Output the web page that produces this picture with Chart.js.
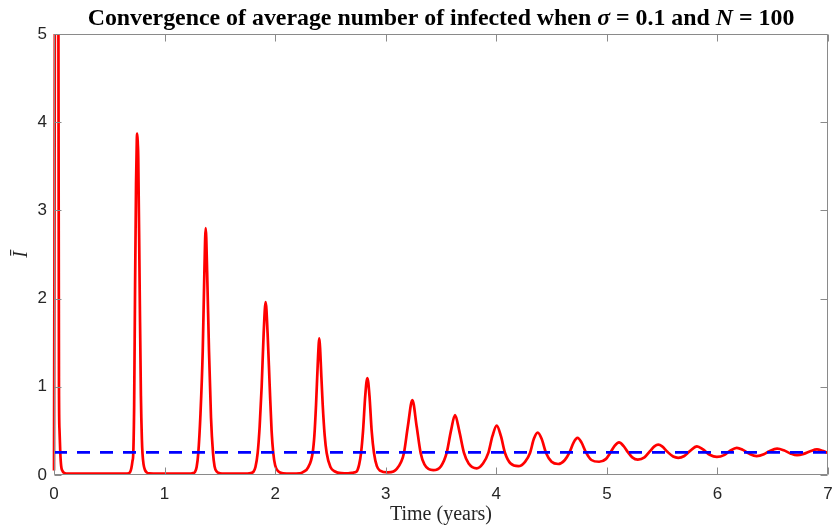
<!DOCTYPE html>
<html>
<head>
<meta charset="utf-8">
<script src="https://cdn.jsdelivr.net/npm/chart.js@4.4.0/dist/chart.umd.min.js"></script>
<style>
  html, body { margin: 0; padding: 0; background: #ffffff; }
</style>
</head>
<body>
<canvas id="infectes" width="833" height="527"></canvas>
<script>
// Temps (années) et nombre moyen d'infectés
const timeYears = [
  0, 0.004, 0.01, 0.03, 0.04, 0.045, 0.05, 0.057, 0.065, 0.075, 0.09, 0.11, 0.2, 0.4, 0.6, 0.66,
  0.687, 0.70, 0.71, 0.717, 0.725, 0.733, 0.742, 0.749, 0.753, 0.758, 0.762, 0.775, 0.786, 0.795, 0.80, 0.81, 0.822, 0.838, 0.86, 0.95, 1.1, 1.22,
  1.25, 1.275, 1.29, 1.305, 1.325, 1.345, 1.36, 1.372, 1.385, 1.402, 1.42, 1.438, 1.452, 1.471, 1.5, 1.6, 1.75,
  1.78, 1.803, 1.822, 1.842, 1.86, 1.878, 1.896, 1.914, 1.932, 1.951, 1.968, 1.983, 2.0, 2.029, 2.07, 2.15, 2.22,
  2.255, 2.3, 2.339, 2.355, 2.37, 2.385, 2.395, 2.40, 2.408, 2.415, 2.43, 2.448, 2.466, 2.5, 2.541, 2.6, 2.66, 2.7,
  2.737, 2.76, 2.777, 2.795, 2.815, 2.834, 2.853, 2.873, 2.894, 2.92, 2.948, 3.02,
  3.07, 3.1, 3.14, 3.165, 3.2, 3.241, 3.28, 3.316, 3.35, 3.43,
  3.50, 3.551, 3.59, 3.627, 3.665, 3.708, 3.75, 3.823,
  3.88, 3.928, 3.965, 4.004, 4.042, 4.079, 4.13, 4.20,
  4.26, 4.305, 4.34, 4.375, 4.41, 4.45, 4.50, 4.56,
  4.62, 4.66, 4.70, 4.735, 4.77, 4.81, 4.86, 4.93,
  4.99, 5.03, 5.07, 5.11, 5.15, 5.19, 5.23, 5.28,
  5.34, 5.39, 5.43, 5.465, 5.50, 5.55, 5.60, 5.645,
  5.70, 5.75, 5.815, 5.87, 5.93, 5.995,
  6.06, 6.11, 6.175, 6.23, 6.29, 6.355,
  6.42, 6.47, 6.54, 6.60, 6.66, 6.72,
  6.78, 6.84, 6.90, 6.95, 7.0
];
const infected = [
  0.05, 2.5, 6, 6, 5, 1.0, 0.5, 0.25, 0.1, 0.05, 0.025, 0.016, 0.015, 0.015, 0.015, 0.017,
  0.03, 0.08, 0.16, 0.25, 0.8, 2.1, 3.3, 3.8, 3.87, 3.75, 3.6, 2.1, 0.9, 0.4, 0.25, 0.12, 0.06, 0.03, 0.018, 0.015, 0.015, 0.017,
  0.02, 0.035, 0.09, 0.25, 0.7, 1.4, 2.3, 2.8, 2.3, 1.4, 0.65, 0.25, 0.1, 0.04, 0.02, 0.015, 0.017,
  0.022, 0.035, 0.09, 0.25, 0.55, 1.0, 1.6, 1.96, 1.6, 1.0, 0.5, 0.25, 0.11, 0.04, 0.02, 0.016, 0.018,
  0.035, 0.09, 0.25, 0.45, 0.8, 1.25, 1.5, 1.55, 1.4, 1.2, 0.8, 0.45, 0.25, 0.09, 0.04, 0.022, 0.02, 0.025,
  0.04, 0.12, 0.25, 0.5, 0.9, 1.10, 0.9, 0.5, 0.25, 0.1, 0.05, 0.03,
  0.04, 0.07, 0.15, 0.25, 0.55, 0.85, 0.55, 0.25, 0.12, 0.055,
  0.1, 0.25, 0.5, 0.68, 0.5, 0.25, 0.13, 0.076,
  0.13, 0.25, 0.44, 0.56, 0.44, 0.25, 0.13, 0.10,
  0.15, 0.25, 0.41, 0.48, 0.41, 0.25, 0.15, 0.125,
  0.17, 0.25, 0.37, 0.42, 0.37, 0.26, 0.17, 0.15,
  0.18, 0.25, 0.33, 0.37, 0.33, 0.26, 0.2, 0.175,
  0.2, 0.27, 0.325, 0.345, 0.325, 0.26, 0.21, 0.195,
  0.215, 0.27, 0.325, 0.29, 0.23, 0.205,
  0.225, 0.27, 0.308, 0.285, 0.24, 0.215,
  0.235, 0.27, 0.298, 0.28, 0.245, 0.225,
  0.24, 0.27, 0.29, 0.275, 0.25
];
// Niveau d'équilibre (ligne pointillée bleue)
const equilibrium = 0.256;
const equilibriumSpan = [0, 7];

const xTickValues = [0, 1, 2, 3, 4, 5, 6, 7];
const yTickValues = [0, 1, 2, 3, 4, 5];

const titleParts = [
  { text: 'Convergence of average number of infected when ', italic: false },
  { text: 'σ', italic: true },
  { text: ' = 0.1 and ', italic: false },
  { text: 'N', italic: true },
  { text: ' = 100', italic: false }
];
const xLabel = 'Time (years)';
const yLabel = 'Ī';

// Cadre façon MATLAB : boîte grise avec graduations vers l'intérieur
const axesBox = {
  id: 'axesBox',
  afterDatasetsDraw(chart) {
    const { ctx, chartArea: a, scales: { x, y } } = chart;
    const tick = 7;
    const L = Math.round(a.left) + 0.5, R = Math.round(a.right) - 0.5;
    const T = Math.round(a.top) + 0.5, B = Math.round(a.bottom) - 0.5;
    ctx.save();
    ctx.strokeStyle = '#8a8a8a';
    ctx.lineWidth = 1;
    ctx.beginPath();
    ctx.rect(L, T, R - L, B - T);
    xTickValues.forEach(v => {
      const px = Math.round(x.getPixelForValue(v)) + 0.5;
      ctx.moveTo(px, B); ctx.lineTo(px, B - tick);
      ctx.moveTo(px, T); ctx.lineTo(px, T + tick);
    });
    yTickValues.forEach(v => {
      const py = Math.round(y.getPixelForValue(v)) + 0.5;
      ctx.moveTo(L, py); ctx.lineTo(L + tick, py);
      ctx.moveTo(R, py); ctx.lineTo(R - tick, py);
    });
    ctx.stroke();
    ctx.restore();
  }
};

// Titre avec les symboles en italique
const titrePlugin = {
  id: 'titre',
  afterDraw(chart) {
    const ctx = chart.ctx;
    const a = chart.chartArea;
    const fontOf = (s, it) => (it ? 'italic ' : '') + 'bold ' + s + 'px "Liberation Serif"';
    ctx.save();
    let w = 0;
    titleParts.forEach(p => { ctx.font = fontOf(20, p.italic); w += ctx.measureText(p.text).width; });
    const size = 20 * 707 / w;
    let total = 0;
    titleParts.forEach(p => { ctx.font = fontOf(size, p.italic); total += ctx.measureText(p.text).width; });
    let xPos = (a.left + a.right) / 2 - total / 2;
    ctx.fillStyle = '#000000';
    ctx.textBaseline = 'alphabetic';
    ctx.textAlign = 'left';
    titleParts.forEach(p => {
      ctx.font = fontOf(size, p.italic);
      ctx.fillText(p.text, xPos, 25);
      xPos += ctx.measureText(p.text).width;
    });
    ctx.restore();
  }
};

const canvas = document.getElementById('infectes');
if (canvas) {
  const ctx = canvas.getContext('2d');
  new Chart(ctx, {
    type: 'line',
    data: {
      datasets: [{
        label: 'Équilibre',
        data: equilibriumSpan.map(t => ({ x: t, y: equilibrium })),
        borderColor: '#0000ff',
        borderWidth: 2.6,
        borderDash: [13, 10],
        pointRadius: 0,
        order: 1
      }, {
        label: 'Infectés',
        data: timeYears.map((t, i) => ({ x: t, y: infected[i] })),
        borderColor: '#ff0000',
        borderWidth: 2.7,
        cubicInterpolationMode: 'monotone',
        pointRadius: 0,
        clip: { left: 2, top: 0, right: 0, bottom: 2 },
        order: 2
      }]
    },
    options: {
      responsive: false,
      animation: false,
      layout: { padding: { top: 34, right: 5, left: 0, bottom: 0 } },
      plugins: {
        legend: { display: false },
        tooltip: { enabled: false }
      },
      scales: {
        x: {
          type: 'linear',
          min: 0,
          max: 7,
          afterBuildTicks: s => { s.ticks = xTickValues.map(v => ({ value: v })); },
          afterFit: s => { s.height = 52; s.paddingLeft = 0; s.paddingRight = 0; },
          ticks: { color: '#262626', padding: 9, font: { family: 'Liberation Sans', size: 17 } },
          grid: { display: false, drawTicks: false, tickLength: 0 },
          border: { display: false },
          title: {
            display: true,
            text: xLabel,
            color: '#262626',
            font: { family: 'Liberation Serif', size: 20 },
            padding: { top: 0, bottom: 0 }
          }
        },
        y: {
          min: 0,
          max: 5,
          afterBuildTicks: s => { s.ticks = yTickValues.map(v => ({ value: v })); },
          afterFit: s => { s.width = 54; },
          ticks: { color: '#262626', padding: 7, font: { family: 'Liberation Sans', size: 17 } },
          grid: { display: false, drawTicks: false, tickLength: 0 },
          border: { display: false },
          title: {
            display: true,
            text: yLabel,
            color: '#262626',
            font: { family: 'Liberation Serif', size: 20, style: 'italic' },
            padding: { top: 10, bottom: 0 }
          }
        }
      }
    },
    plugins: [axesBox, titrePlugin]
  });
} else {
  console.error("Canvas introuvable");
}
</script>
</body>
</html>
